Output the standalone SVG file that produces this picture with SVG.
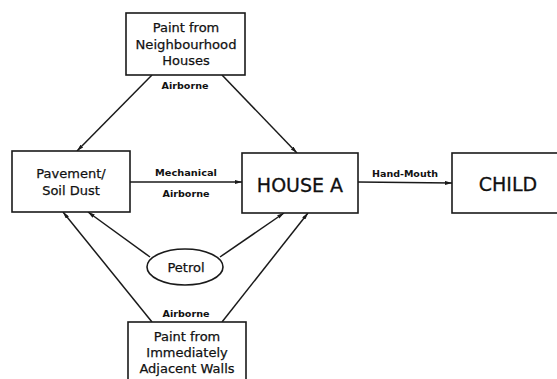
<svg xmlns="http://www.w3.org/2000/svg" width="557" height="379" viewBox="0 0 557 379">
<defs>
<marker id="arr" viewBox="0 0 7 4" refX="7" refY="2" markerWidth="7" markerHeight="4" markerUnits="userSpaceOnUse" orient="auto">
<path d="M0,0 L7,2 L0,4 Z" fill="#1a1a1a"/>
</marker>
</defs>
<style>
.box{fill:#fff;stroke:#1a1a1a;stroke-width:1.6}
.ln{fill:none;stroke:#1a1a1a;stroke-width:1.5;marker-end:url(#arr)}
.t{font-family:"DejaVu Sans",sans-serif;font-size:13px;fill:#111;stroke:#111;stroke-width:0.25;text-anchor:middle}
.big{font-family:"DejaVu Sans",sans-serif;font-size:19px;fill:#111;stroke:#111;stroke-width:0.3;text-anchor:middle}
.lbl{font-family:"DejaVu Sans",sans-serif;font-size:9px;font-weight:bold;fill:#111;text-anchor:middle}
</style>
<rect width="557" height="379" fill="#fff"/>
<g id="connectors">
<line class="ln" x1="152" y1="75" x2="77" y2="151"/>
<line class="ln" x1="222" y1="75" x2="297" y2="153"/>
<line class="ln" x1="130" y1="182" x2="242" y2="182"/>
<line class="ln" x1="358" y1="182" x2="452" y2="183"/>
<line class="ln" x1="150" y1="257" x2="88" y2="212"/>
<line class="ln" x1="220" y1="257" x2="284" y2="213"/>
<line class="ln" x1="152" y1="322" x2="63" y2="212"/>
<line class="ln" x1="222" y1="322" x2="308" y2="213"/>
<text class="lbl" x="185" y="89" textLength="47" lengthAdjust="spacingAndGlyphs">Airborne</text>
<text class="lbl" x="186" y="176" textLength="62" lengthAdjust="spacingAndGlyphs">Mechanical</text>
<text class="lbl" x="186" y="197" textLength="47" lengthAdjust="spacingAndGlyphs">Airborne</text>
<text class="lbl" x="405" y="177" textLength="66" lengthAdjust="spacingAndGlyphs">Hand-Mouth</text>
<text class="lbl" x="186" y="317" textLength="47" lengthAdjust="spacingAndGlyphs">Airborne</text>
</g>
<g id="node-paint-neighbourhood">
<rect class="box" x="126" y="13" width="119" height="62"/>
<text class="t" x="186" y="32">Paint from</text>
<text class="t" x="186" y="49" textLength="101" lengthAdjust="spacingAndGlyphs">Neighbourhood</text>
<text class="t" x="186" y="65">Houses</text>
</g>
<g id="node-pavement">
<rect class="box" x="12" y="151" width="118" height="61"/>
<text class="t" x="71" y="178">Pavement/</text>
<text class="t" x="71" y="195">Soil Dust</text>
</g>
<g id="node-house-a">
<rect class="box" x="242" y="153" width="116" height="60"/>
<text class="big" x="300" y="192">HOUSE A</text>
</g>
<g id="node-child">
<rect class="box" x="452" y="153" width="120" height="60"/>
<text class="big" x="508" y="191">CHILD</text>
</g>
<g id="node-petrol">
<ellipse class="box" cx="185" cy="267" rx="38" ry="18"/>
<text class="t" x="186" y="272">Petrol</text>
</g>
<g id="node-paint-adjacent">
<rect class="box" x="128" y="322" width="118" height="70"/>
<text class="t" x="187" y="341">Paint from</text>
<text class="t" x="187" y="357">Immediately</text>
<text class="t" x="187" y="373">Adjacent Walls</text>
</g>
</svg>
